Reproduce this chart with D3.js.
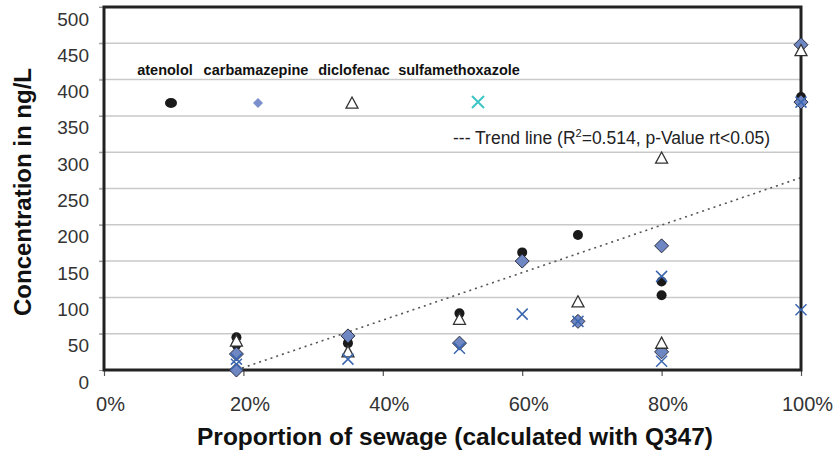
<!DOCTYPE html>
<html>
<head>
<meta charset="utf-8">
<script src="https://cdn.jsdelivr.net/npm/d3@7"></script>
<style>
  html, body { margin: 0; padding: 0; background: #fff; }
  svg { display: block; font-family: "Liberation Sans", Arial, sans-serif; }
</style>
</head>
<body>
<svg id="chart" width="840" height="450"></svg>
<script>
// ---- data ----
const seriesNames = ["atenolol", "carbamazepine", "diclofenac", "sulfamethoxazole"];
const atenololX = [0.19, 0.19, 0.35, 0.51, 0.60, 0.68, 0.80, 0.80, 1.00];
const atenololY = [45, 35, 37, 78, 162, 186, 122, 103, 376];
const carbamazepineX = [0.19, 0.19, 0.35, 0.51, 0.60, 0.68, 0.80, 0.80, 1.00, 1.00];
const carbamazepineY = [22, 0, 47, 37, 150, 67, 171, 25, 448, 369];
const diclofenacX = [0.19, 0.35, 0.51, 0.68, 0.80, 0.80, 1.00];
const diclofenacY = [40, 25, 70, 94, 292, 37, 440];
const sulfamethoxazoleX = [0.19, 0.19, 0.35, 0.51, 0.60, 0.68, 0.80, 0.80, 1.00, 1.00];
const sulfamethoxazoleY = [15, 8, 15, 30, 77, 67, 129, 12, 369, 83];
const trendX = [0.19, 1.00];
const trendY = [0, 265];
const xTicks = [0, 0.2, 0.4, 0.6, 0.8, 1.0];
const yTicks = [0, 50, 100, 150, 200, 250, 300, 350, 400, 450, 500];
const xTitle = "Proportion of sewage (calculated with Q347)";
const yTitle = "Concentration in ng/L";

// ---- layout ----
const svg = d3.select("#chart");
const L = 104, R = 801, T = 7, B = 370;
const x = d3.scaleLinear().domain([0, 1]).range([L, R]);
const y = d3.scaleLinear().domain([0, 500]).range([B, T]);

// gridlines
svg.append("g").selectAll("line").data(yTicks.filter(d => d > 0)).join("line")
  .attr("x1", L - 5).attr("x2", R).attr("y1", d => y(d)).attr("y2", d => y(d))
  .attr("stroke", "#c9c9c9").attr("stroke-width", 1.5);

// y axis labels
const yAxis = d3.axisLeft(y).tickValues(yTicks).tickSize(5).tickFormat(d3.format("d"));
const gy = svg.append("g").attr("transform", `translate(${L},0)`).call(yAxis);
gy.select(".domain").remove();
gy.selectAll(".tick line").attr("stroke", "#999");
gy.selectAll(".tick text").attr("font-size", 19).attr("fill", "#333")
  .attr("x", -15).attr("dy", "0.95em").attr("font-family", "Liberation Sans, Arial, sans-serif");

// x axis labels
const xAxis = d3.axisBottom(x).tickValues(xTicks).tickSize(6).tickFormat(d3.format(".0%"));
const gx = svg.append("g").attr("transform", `translate(0,${B})`).call(xAxis);
gx.select(".domain").remove();
gx.selectAll(".tick line").attr("stroke", "#555").attr("stroke-width", 1.2);
gx.selectAll(".tick text").attr("font-size", 20).attr("fill", "#333")
  .attr("y", 27).attr("dx", 6).attr("font-family", "Liberation Sans, Arial, sans-serif");

// trend line
svg.append("line")
  .attr("x1", x(trendX[0])).attr("y1", y(trendY[0]))
  .attr("x2", x(trendX[1])).attr("y2", y(trendY[1]))
  .attr("stroke", "#555").attr("stroke-width", 1.6).attr("stroke-dasharray", "2,4");

// frame
svg.append("rect").attr("x", L).attr("y", T).attr("width", R - L).attr("height", B - T)
  .attr("fill", "none").attr("stroke", "#222").attr("stroke-width", 3);

// marker shapes
const diamondPath = r => `M0,${-r}L${r},0L0,${r}L${-r},0Z`;
const trianglePath = s => `M0,${-s}L${s},${s*0.85}L${-s},${s*0.85}Z`;
const crossPath = s => `M${-s},${-s}L${s},${s}M${s},${-s}L${-s},${s}`;

const pts = (xs, ys) => xs.map((d, i) => ({ x: d, y: ys[i] }));

svg.append("g").selectAll("circle").data(pts(atenololX, atenololY)).join("circle")
  .attr("cx", d => x(d.x)).attr("cy", d => y(d.y)).attr("r", 5).attr("fill", "#1a1a1a");

svg.append("g").selectAll("path").data(pts(carbamazepineX, carbamazepineY)).join("path")
  .attr("transform", d => `translate(${x(d.x)},${y(d.y)})`).attr("d", diamondPath(7))
  .attr("fill", "#6e86c2").attr("stroke", "#2a2d3d").attr("stroke-width", 1);

svg.append("g").selectAll("path").data(pts(diclofenacX, diclofenacY)).join("path")
  .attr("transform", d => `translate(${x(d.x)},${y(d.y)})`).attr("d", trianglePath(6))
  .attr("fill", "#fff").attr("stroke", "#333").attr("stroke-width", 1.3);

svg.append("g").selectAll("path").data(pts(sulfamethoxazoleX, sulfamethoxazoleY)).join("path")
  .attr("transform", d => `translate(${x(d.x)},${y(d.y)})`).attr("d", crossPath(5.5))
  .attr("fill", "none").attr("stroke", "#3a66b0").attr("stroke-width", 1.5);

// legend
const legX = [165, 256, 354, 459];
const legSymX = [171, 258, 352, 478];
svg.append("g").selectAll("text").data(seriesNames).join("text")
  .attr("x", (d, i) => legX[i]).attr("y", 75).attr("text-anchor", "middle")
  .attr("font-size", 14.5).attr("font-weight", "bold").attr("fill", "#111").text(d => d);
svg.append("ellipse").attr("cx", legSymX[0]).attr("cy", 103).attr("rx", 6).attr("ry", 5).attr("fill", "#1a1a1a");
svg.append("path").attr("transform", `translate(${legSymX[1]},103)`).attr("d", diamondPath(5)).attr("fill", "#7b8fcc");
svg.append("path").attr("transform", `translate(${legSymX[2]},103)`).attr("d", trianglePath(6))
  .attr("fill", "#fff").attr("stroke", "#333").attr("stroke-width", 1.3);
svg.append("path").attr("transform", `translate(${legSymX[3]},102)`).attr("d", crossPath(6))
  .attr("fill", "none").attr("stroke", "#3cc6c6").attr("stroke-width", 2);

// trend text
const tt = svg.append("text").attr("x", 453).attr("y", 144).attr("font-size", 17.5).attr("fill", "#222");
tt.append("tspan").text("--- Trend line (R");
tt.append("tspan").attr("font-size", 11).attr("dy", -7).text("2");
tt.append("tspan").attr("dy", 7).text("=0.514,  p-Value rt<0.05)");

// axis titles
svg.append("text").attr("x", 455).attr("y", 445).attr("text-anchor", "middle")
  .attr("font-size", 24.5).attr("font-weight", "bold").attr("fill", "#111").text(xTitle);
svg.append("text").attr("transform", "translate(31,192) rotate(-90)").attr("text-anchor", "middle")
  .attr("font-size", 24).attr("font-weight", "bold").attr("fill", "#111").text(yTitle);
</script>
</body>
</html>
